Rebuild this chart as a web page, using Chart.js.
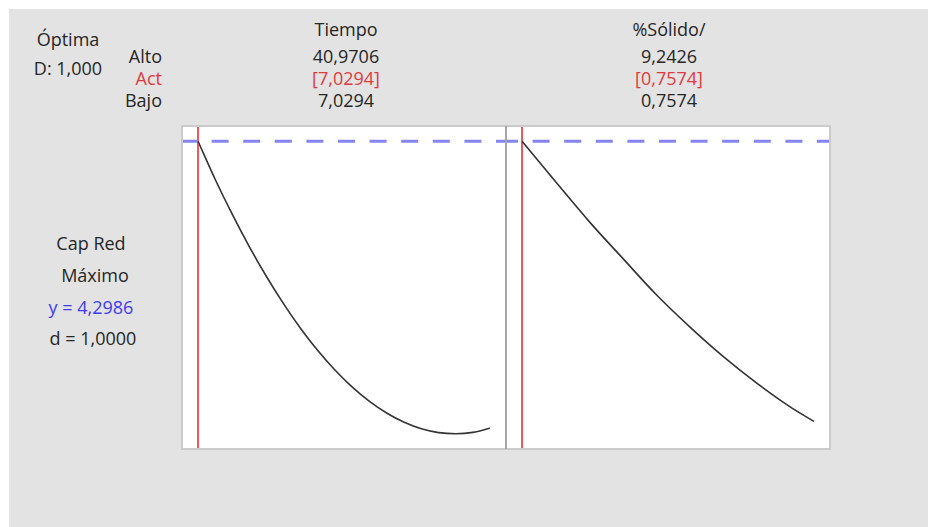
<!DOCTYPE html>
<html lang="es">
<head>
<meta charset="utf-8">
<title>Optimización de respuesta: Cap Red</title>
<script src="https://cdn.jsdelivr.net/npm/chart.js@4.4.1/dist/chart.umd.min.js"></script>
<style>
  html, body { margin: 0; padding: 0; background: #fff; }
  body {
    width: 928px; height: 527px; position: relative; overflow: hidden;
    font-family: "Open Sans", "Noto Sans", sans-serif; font-size: 18px; color: #262626;
  }
  #sheet { position: absolute; left: 9px; top: 9px; right: 0; bottom: 0; background: #e3e3e3; }
  .t { position: absolute; white-space: nowrap; line-height: 1; }
  .c { transform: translateX(-50%); }
  .red { color: #e03a3e; }
  .blue { color: #3c3cf0; }
  .panel { position: absolute; top: 120px; width: 336px; height: 335px; }
  .panel canvas { display: block; }
</style>
</head>
<body>
<div id="sheet"></div>

<!-- optimizer header -->
<div class="t c" style="left:68px; top:30px;">Óptima</div>
<div class="t c" id="compD" style="left:68px; top:59px;"></div>

<div class="t" style="right:766px; top:47px;">Alto</div>
<div class="t red" style="right:766px; top:69px;">Act</div>
<div class="t" style="right:766px; top:91px;">Bajo</div>

<div class="t c" id="f0name" style="left:346px; top:20px;"></div>
<div class="t c" id="f0hi" style="left:346px; top:47px;"></div>
<div class="t c red" id="f0cur" style="left:346px; top:69px;"></div>
<div class="t c" id="f0lo" style="left:346px; top:91px;"></div>

<div class="t c" id="f1name" style="left:669px; top:20px;"></div>
<div class="t c" id="f1hi" style="left:669px; top:47px;"></div>
<div class="t c red" id="f1cur" style="left:669px; top:69px;"></div>
<div class="t c" id="f1lo" style="left:669px; top:91px;"></div>

<!-- response block -->
<div class="t c" id="respName" style="left:91px; top:234px;"></div>
<div class="t c" id="respGoal" style="left:95px; top:266px;"></div>
<div class="t c blue" id="respY" style="left:91px; top:298px;"></div>
<div class="t c" id="respD" style="left:93px; top:329px;"></div>

<div class="panel" style="left:176px;"><canvas id="panelTiempo" width="336" height="335"></canvas></div>
<div class="panel" style="left:500px;"><canvas id="panelSolido" width="336" height="335"></canvas></div>

<script>
// Factors, their limits and the current optimal setting
const factorNames   = ['Tiempo', '%Sólido/'];
const highLevels    = [40.9706, 9.2426];
const currentLevels = [7.0294, 0.7574];
const lowLevels     = [7.0294, 0.7574];

// Response summary
const responseName  = 'Cap Red';
const responseGoal  = 'Máximo';
const predictedY    = 4.2986;
const desirability  = 1.0;
const compositeD    = 1.0;

// Predicted response along Tiempo (other factor held at its setting)
const tiempoX = [7.0294, 9, 11, 13, 15, 17, 19, 21, 23, 25, 27, 29, 31, 33, 35, 37, 39, 40.9706];
const tiempoY = [4.2986, 4.002, 3.725, 3.469, 3.234, 3.019, 2.824, 2.650, 2.497, 2.364, 2.252, 2.161, 2.090, 2.039, 2.009, 2.000, 2.011, 2.043];

// Predicted response along %Sólido/
const solidoX = [0.7574, 1.77, 2.73, 3.70, 4.67, 5.64, 6.61, 7.58, 8.54, 9.2426];
const solidoY = [4.2986, 3.968, 3.661, 3.374, 3.090, 2.838, 2.606, 2.398, 2.213, 2.097];

// Spanish number formatting (decimal comma)
const fmt = (v, d) => v.toFixed(d).replace('.', ',');

document.getElementById('compD').textContent = 'D: ' + fmt(compositeD, 3);
['0', '1'].forEach(i => {
  document.getElementById('f' + i + 'name').textContent = factorNames[i];
  document.getElementById('f' + i + 'hi').textContent = fmt(highLevels[i], 4);
  document.getElementById('f' + i + 'cur').textContent = '[' + fmt(currentLevels[i], 4) + ']';
  document.getElementById('f' + i + 'lo').textContent = fmt(lowLevels[i], 4);
});
document.getElementById('respName').textContent = responseName;
document.getElementById('respGoal').textContent = responseGoal;
document.getElementById('respY').textContent = 'y = ' + fmt(predictedY, 4);
document.getElementById('respD').textContent = 'd = ' + fmt(desirability, 4);

// Shared vertical range for both panels, padded around the predicted values
const yAll = tiempoY.concat(solidoY);
const yLo = Math.min(...yAll), yHi = Math.max(...yAll);
const Y_PAD = 0.052, X_PAD = 0.055;
const yMin = yLo - Y_PAD * (yHi - yLo);
const yMax = yHi + Y_PAD * (yHi - yLo);

// White plotting area plus frame; the edge shared by the two panels is darker
const framePlugin = {
  id: 'panelFrame',
  beforeDraw(chart) {
    const { ctx, chartArea: a } = chart;
    ctx.save();
    ctx.fillStyle = '#ffffff';
    ctx.fillRect(a.left, a.top, a.width, a.height);
    ctx.restore();
  },
  afterDraw(chart, args, opts) {
    const { ctx, chartArea: a } = chart;
    const edge = (x1, y1, x2, y2, color, w) => {
      ctx.beginPath();
      ctx.strokeStyle = color;
      ctx.lineWidth = w;
      ctx.moveTo(x1, y1);
      ctx.lineTo(x2, y2);
      ctx.stroke();
    };
    ctx.save();
    const light = '#cbcbcb', dark = '#a6a6a6';
    edge(a.left - 1, a.top, a.right + 1, a.top, light, 2);
    edge(a.left - 1, a.bottom, a.right + 1, a.bottom, light, 2);
    edge(a.left, a.top, a.left, a.bottom, opts.leftDark ? dark : light, 2);
    edge(a.right, a.top, a.right, a.bottom, opts.rightDark ? dark : light, 2);
    ctx.restore();
  }
};

function makePanel(canvasId, idx, xs, ys, dashOffset, frameOpts) {
  const lo = lowLevels[idx], hi = highLevels[idx];
  const xMin = lo - X_PAD * (hi - lo);
  const xMax = hi + X_PAD * (hi - lo);
  const cur = currentLevels[idx];
  return new Chart(document.getElementById(canvasId), {
    type: 'line',
    data: {
      datasets: [
        {
          label: 'respuesta',
          data: xs.map((x, i) => ({ x, y: ys[i] })),
          borderColor: '#333333',
          borderWidth: 1.6,
          pointRadius: 0,
          cubicInterpolationMode: 'monotone',
          order: 0
        },
        {
          label: 'y óptima',
          data: [{ x: xMin, y: predictedY }, { x: xMax, y: predictedY }],
          borderColor: '#8585f2',
          borderWidth: 3,
          borderDash: [17, 14.6],
          borderDashOffset: dashOffset,
          pointRadius: 0,
          order: 1
        },
        {
          label: 'ajuste actual',
          data: [{ x: cur, y: yMin }, { x: cur, y: yMax }],
          borderColor: '#e35a5d',
          borderWidth: 2,
          pointRadius: 0,
          order: 2
        }
      ]
    },
    options: {
      responsive: false,
      animation: false,
      events: [],
      layout: { padding: 6 },
      plugins: {
        legend: { display: false },
        tooltip: { enabled: false },
        panelFrame: frameOpts
      },
      scales: {
        x: { type: 'linear', min: xMin, max: xMax, display: false },
        y: { type: 'linear', min: yMin, max: yMax, display: false }
      }
    },
    plugins: [framePlugin]
  });
}

makePanel('panelTiempo', 0, tiempoX, tiempoY, 2, { leftDark: false, rightDark: true });
makePanel('panelSolido', 1, solidoX, solidoY, 5, { leftDark: true, rightDark: false });
</script>
</body>
</html>
